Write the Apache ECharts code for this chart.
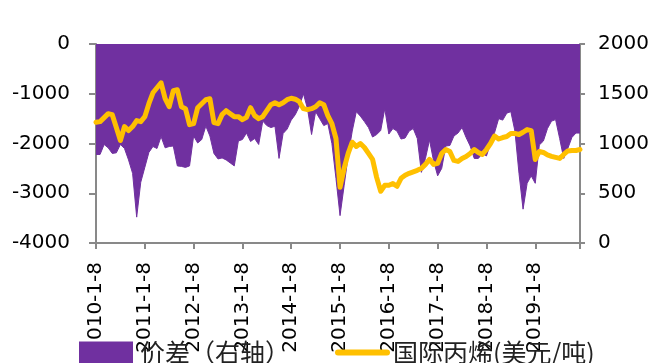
<!DOCTYPE html>
<html>
<head>
<meta charset="utf-8">
<script src="https://cdn.jsdelivr.net/npm/echarts@6/dist/echarts.min.js"></script>
<style>html,body{margin:0;padding:0;background:#fff;}#c{width:660px;height:363px;}</style>
</head>
<body>
<div id="c"></div>
<script>
// Monthly categories 2010-1-8 ... 2019-12-8
const categories = [];
for (let y = 2010; y <= 2019; y++) for (let m = 1; m <= 12; m++) categories.push(y + '-' + m + '-8');

const spreadName = '价差（右轴）';
const propyleneName = '国际丙烯(美元/吨)';

const spread = [
-2220,-2220,-2020,-2087,-2200,-2187,-2020,-2100,-2330,-2600,-3480,-2780,
-2480,-2180,-2060,-2100,-1860,-2087,-2060,-2050,-2450,-2460,-2480,-2450,
-1850,-1990,-1920,-1650,-1850,-2200,-2310,-2290,-2330,-2390,-2450,-1950,
-1920,-1790,-1960,-1900,-2020,-1550,-1640,-1680,-1653,-2300,-1800,-1710,
-1530,-1420,-1250,-1000,-1300,-1820,-1360,-1500,-1640,-1600,-2000,-2700,
-3450,-2850,-2250,-1750,-1360,-1450,-1560,-1680,-1870,-1820,-1740,-1300,
-1810,-1700,-1750,-1910,-1890,-1750,-1700,-1900,-2580,-2300,-1930,-2350,
-2650,-2500,-2050,-2040,-1850,-1790,-1680,-1880,-2050,-2300,-2300,-2200,
-2250,-2000,-1780,-1500,-1530,-1390,-1360,-1750,-2600,-3320,-2800,-2650,
-2800,-2030,-1950,-1700,-1550,-1520,-1900,-2300,-2100,-1880,-1790,-1790
];

const propylene = [
1213,1220,1260,1300,1290,1160,1030,1170,1130,1170,1230,1220,
1270,1400,1510,1560,1610,1450,1370,1530,1540,1370,1350,1190,
1200,1360,1400,1440,1450,1210,1200,1290,1330,1300,1270,1270,
1240,1263,1360,1280,1250,1270,1330,1390,1410,1390,1410,1440,
1455,1445,1420,1350,1340,1350,1370,1410,1390,1280,1200,1050,
560,750,900,1013,970,1000,960,900,840,660,520,580,
580,597,570,650,680,700,715,730,750,790,840,790,
800,900,940,920,830,820,850,870,900,940,910,890,
940,1000,1075,1045,1060,1070,1100,1100,1090,1113,1140,1130,
840,920,910,885,870,860,850,890,925,930,930,940
];

const leftTicks = {min: -4000, max: 0, interval: 1000};
const rightTicks = {min: 0, max: 2000, interval: 500};

const axisColor = '#898989';
const font = 'DejaVu Sans';
const cjk = '"Noto Sans CJK SC", "DejaVu Sans"';
const plain = function (v) { return String(v); };

const chart = echarts.init(document.getElementById('c'), null, {renderer: 'canvas'});
chart.setOption({
  animation: false,
  backgroundColor: '#fff',
  grid: {left: 96, right: 80, top: 44, bottom: 120, containLabel: false},
  legend: [
    {
      data: [{name: spreadName, icon: 'rect'}],
      left: 74, top: 334, itemWidth: 54, itemHeight: 22, itemGap: 10,
      textStyle: {fontFamily: cjk, fontSize: 25, color: '#222', padding: [0,0,0,2], lineHeight: 27},
      selectedMode: false
    },
    {
      data: [{name: propyleneName, icon: 'path://M3,0 L52,0 A3,3 0 0 1 52,6 L3,6 A3,3 0 0 1 3,0 Z'}],
      left: 330, top: 334, itemWidth: 55, itemHeight: 6, itemGap: 10,
      textStyle: {fontFamily: cjk, fontSize: 25, color: '#222', padding: [0,0,0,-2], lineHeight: 27},
      selectedMode: false
    }
  ],
  xAxis: {
    type: 'category',
    data: categories,
    boundaryGap: false,
    position: 'bottom',
    axisLine: {onZero: false, lineStyle: {color: axisColor, width: 2}},
    axisTick: {show: true, length: 6, interval: function (i) { return i % 12 === 0 || i === 119; }, lineStyle: {color: axisColor, width: 2}},
    axisLabel: {rotate: 90, margin: 19, interval: function (i) { return i % 12 === 0; }, fontFamily: font, fontSize: 20, color: '#000'},
    splitLine: {show: false}
  },
  yAxis: [
    {
      type: 'value', position: 'left',
      min: leftTicks.min, max: leftTicks.max, interval: leftTicks.interval,
      axisLine: {show: true, lineStyle: {color: axisColor, width: 2}},
      axisTick: {show: true, length: 7, inside: false, lineStyle: {color: axisColor, width: 2}},
      axisLabel: {margin: 26, fontFamily: font, fontSize: 20, color: '#000', formatter: plain},
      splitLine: {show: false}
    },
    {
      type: 'value', position: 'right',
      min: rightTicks.min, max: rightTicks.max, interval: rightTicks.interval,
      axisLine: {show: true, lineStyle: {color: axisColor, width: 2}},
      axisTick: {show: true, length: 5, inside: false, lineStyle: {color: axisColor, width: 2}},
      axisLabel: {margin: 18, fontFamily: font, fontSize: 20, color: '#000', formatter: plain},
      splitLine: {show: false}
    }
  ],
  series: [
    {
      name: spreadName, type: 'line', yAxisIndex: 0, data: spread,
      symbol: 'none', showSymbol: false,
      itemStyle: {color: '#7030A0'},
      lineStyle: {color: '#7030A0', width: 1},
      areaStyle: {color: '#7030A0', opacity: 1},
      z: 2
    },
    {
      name: propyleneName, type: 'line', yAxisIndex: 1, data: propylene,
      symbol: 'none', showSymbol: false,
      itemStyle: {color: '#FFC000'},
      lineStyle: {color: '#FFC000', width: 5, cap: 'round', join: 'round'},
      z: 3
    }
  ]
});
</script>
</body>
</html>
